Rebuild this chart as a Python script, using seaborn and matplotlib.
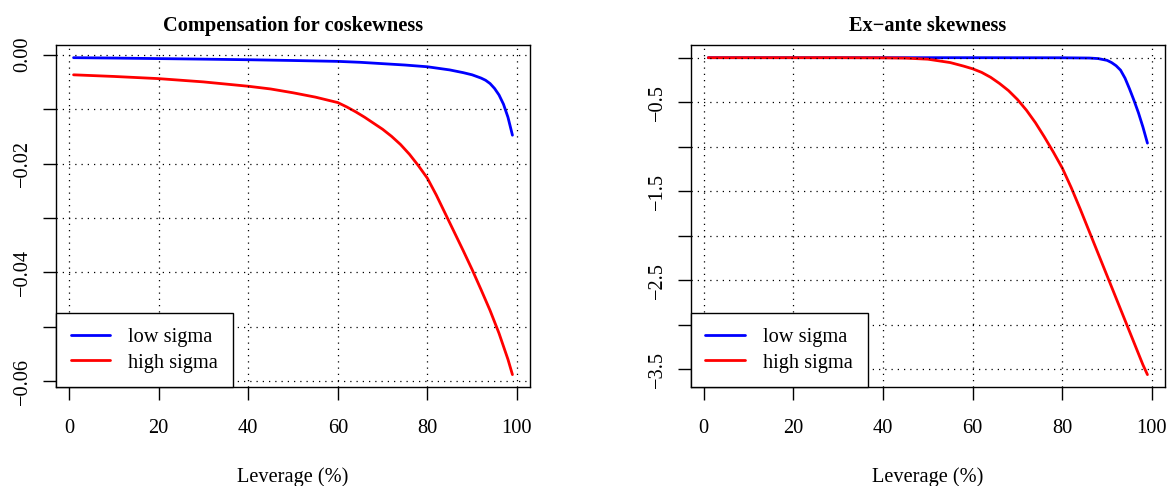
import matplotlib
matplotlib.use("Agg")
import matplotlib.pyplot as plt
import pandas as pd
import seaborn as sns
from matplotlib.lines import Line2D

# ---- data -------------------------------------------------------------
# Compensation for coskewness, low sigma
lev_cosk_low = [1, 10, 20, 30, 40, 50, 60, 65, 70, 75, 80, 85, 88, 90, 92, 93,
                94, 95, 96, 97, 98, 99]
cosk_low = [-0.00055, -0.00062, -0.00072, -0.00082, -0.00093, -0.00107,
            -0.00123, -0.00140, -0.00165, -0.0019, -0.00222, -0.0028,
            -0.0033, -0.0037, -0.0043, -0.0047, -0.0053, -0.0062, -0.0074,
            -0.0091, -0.0115, -0.0148]

# Compensation for coskewness, high sigma
lev_cosk_high = [1, 10, 20, 30, 40, 45, 50, 55, 60, 62, 64, 66, 68, 70, 72, 74,
                 76, 78, 80, 82, 84, 86, 88, 90, 92, 94, 96, 98, 99]
cosk_high = [-0.0037, -0.0040, -0.0044, -0.0050, -0.0058, -0.0063, -0.0070,
             -0.0078, -0.0088, -0.0096, -0.0105, -0.0115, -0.0126, -0.0137,
             -0.0150, -0.0165, -0.0183, -0.0204, -0.0227, -0.0258, -0.0292,
             -0.0326, -0.0360, -0.0395, -0.0432, -0.0470, -0.0512, -0.0560,
             -0.0588]

# Ex-ante skewness, low sigma
lev_skew_low = [1, 20, 40, 60, 80, 86, 88, 90, 91, 92, 93, 94, 95, 96, 97, 98, 99]
skew_low = [0.0, 0.0, 0.0, 0.0, -0.001, -0.004, -0.01, -0.03, -0.055, -0.09,
            -0.14, -0.23, -0.35, -0.48, -0.62, -0.78, -0.96]

# Ex-ante skewness, high sigma
lev_skew_high = [1, 10, 20, 30, 40, 45, 50, 55, 58, 60, 62, 64, 66, 68, 70, 72,
                 74, 76, 78, 80, 82, 84, 86, 88, 90, 92, 94, 96, 98, 99]
skew_high = [0.0, 0.0, 0.0, 0.0, -0.002, -0.005, -0.017, -0.055, -0.095,
             -0.125, -0.165, -0.22, -0.29, -0.37, -0.47, -0.59, -0.73, -0.89,
             -1.06, -1.24, -1.46, -1.70, -1.95, -2.20, -2.45, -2.70, -2.95,
             -3.20, -3.45, -3.56]

series_labels = ["low sigma", "high sigma"]
series_colors = ["#0000ff", "#ff0000"]

x_ticks = [0, 20, 40, 60, 80, 100]
cosk_ticks = [0.0, -0.01, -0.02, -0.03, -0.04, -0.05, -0.06]
cosk_ticklabels = ["0.00", "", "\u22120.02", "", "\u22120.04", "", "\u22120.06"]
skew_ticks = [0.0, -0.5, -1.0, -1.5, -2.0, -2.5, -3.0, -3.5]
skew_ticklabels = ["", "\u22120.5", "", "\u22121.5", "", "\u22122.5", "", "\u22123.5"]

titles = ["Compensation for coskewness", "Ex\u2212ante skewness"]
x_label = "Leverage (%)"

# ---- style ------------------------------------------------------------
FS = 14.7
sns.set_theme(style="white", rc={
    "axes.edgecolor": "black",
    "axes.linewidth": 1.0,
    "xtick.bottom": True,
    "ytick.left": True,
    "xtick.color": "black",
    "ytick.color": "black",
    "text.color": "black",
    "axes.labelcolor": "black",
    "xtick.major.size": 9.2,
    "ytick.major.size": 9.2,
    "xtick.major.width": 1.0,
    "ytick.major.width": 1.0,
})
plt.rcParams["font.family"] = ["Liberation Serif", "DejaVu Serif"]

W, H = 1170, 486
fig = plt.figure(figsize=(W / 100, H / 100), dpi=100)
fig.patch.set_facecolor("white")

ax_bottom = 1 - 387.3 / H
ax_height = 342.3 / H
ax1 = fig.add_axes([56 / W, ax_bottom, 474 / W, ax_height])
ax2 = fig.add_axes([690.7 / W, ax_bottom, 474.3 / W, ax_height])

panels = [
    (ax1, [(lev_cosk_low, cosk_low), (lev_cosk_high, cosk_high)],
     cosk_ticks, cosk_ticklabels, titles[0]),
    (ax2, [(lev_skew_low, skew_low), (lev_skew_high, skew_high)],
     skew_ticks, skew_ticklabels, titles[1]),
]

for ax, curves, yt, ytl, title in panels:
    for (lev, vals), color in zip(curves, series_colors):
        df = pd.DataFrame({"leverage": lev, "value": vals})
        sns.lineplot(data=df, x="leverage", y="value", color=color,
                     linewidth=2.0, ax=ax, legend=False)
    ax.margins(x=0.04, y=0.04)

    ax.set_xticks(x_ticks)
    ax.set_xticklabels([str(t) for t in x_ticks], fontsize=FS)
    ax.set_yticks(yt)
    ax.set_yticklabels(ytl, fontsize=FS, rotation=90, va="center")
    ax.tick_params(axis="x", pad=13.5)
    ax.tick_params(axis="y", pad=8.2)

    # dotted reference grid drawn above the curves, as in base R grid()
    ax.set_axisbelow(False)
    ax.grid(True, color="black", linewidth=0.9, linestyle=(0, (1, 4)))

    ax.set_title(title, fontsize=FS, fontweight="bold", pad=10.3)
    ax.set_xlabel(x_label, fontsize=FS, labelpad=21.5)
    ax.set_ylabel("")
    for sp in ax.spines.values():
        sp.set_visible(True)
        sp.set_color("black")
        sp.set_linewidth(1.0)

    handles = [Line2D([], [], color=c, linewidth=2.0) for c in series_colors]
    leg = ax.legend(handles, series_labels, loc="lower left",
                    bbox_to_anchor=(0, 0), borderaxespad=0, frameon=True,
                    fancybox=False, edgecolor="black", framealpha=1,
                    fontsize=FS, borderpad=0.72, handlelength=1.94,
                    handletextpad=0.88, labelspacing=0.31)
    leg.get_frame().set_linewidth(1.0)

fig.savefig("out.png", dpi=100, facecolor="white")
